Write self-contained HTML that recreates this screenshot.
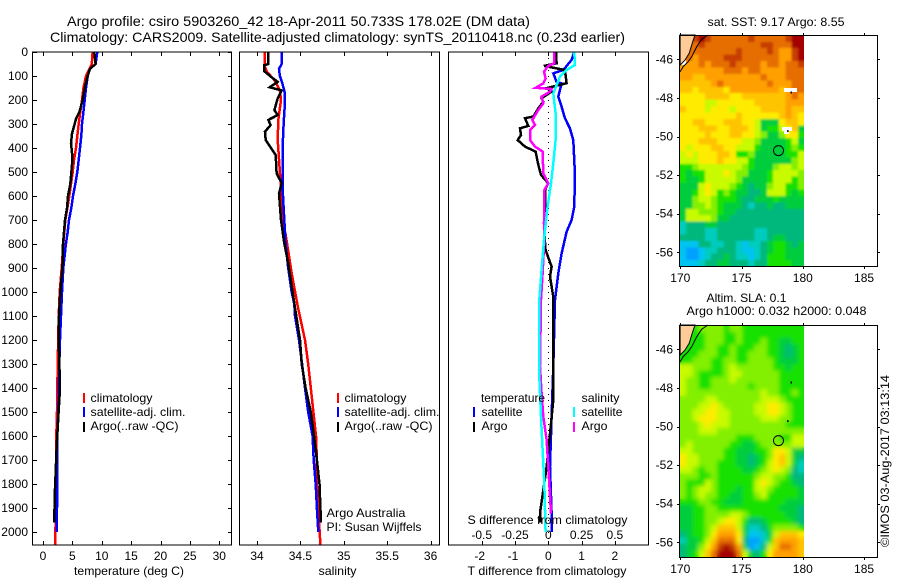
<!DOCTYPE html>
<html lang="en">
<head>
<meta charset="utf-8">
<title>Argo profile</title>
<style>
html,body{margin:0;padding:0;background:#fff;}
svg{display:block;}
text{font-family:"Liberation Sans",sans-serif;font-size:12px;fill:#000;}
.title{font-size:14px;}
</style>
</head>
<body>
<svg id="chart" xmlns="http://www.w3.org/2000/svg" width="900" height="580" viewBox="0 0 900 580">
<defs>
<filter id="sstSoft" x="-5%" y="-5%" width="110%" height="110%"><feGaussianBlur stdDeviation="1"/></filter>
<filter id="slaSoft" x="-5%" y="-5%" width="110%" height="110%"><feGaussianBlur stdDeviation="2.2"/></filter>
<clipPath id="sstClip"><rect x="680" y="35" width="124" height="232"/></clipPath>
<clipPath id="slaClip"><rect x="680" y="325" width="124" height="232"/></clipPath>
</defs>
<rect x="0" y="0" width="900" height="580" fill="#fff"/>
<text class="title" x="67" y="26" textLength="463" lengthAdjust="spacingAndGlyphs">Argo profile: csiro 5903260_42 18-Apr-2011 50.733S 178.02E (DM data)</text>
<text class="title" x="50" y="42" textLength="575" lengthAdjust="spacingAndGlyphs">Climatology: CARS2009. Satellite-adjusted climatology: synTS_20110418.nc (0.23d earlier)</text>

<g id="marks"></g>

<rect x="32.5" y="52" width="199" height="493" fill="none" stroke="#000"/>
<rect x="239.5" y="52" width="200" height="493" fill="none" stroke="#000"/>
<rect x="448.5" y="52" width="200" height="493" fill="none" stroke="#000"/>
<rect x="679.5" y="35.5" width="198" height="231" fill="none" stroke="#000"/>
<rect x="679.5" y="325.5" width="198" height="232" fill="none" stroke="#000"/>

<g>
<rect x="83" y="393" width="2" height="10" fill="#f00"/>
<rect x="83" y="407" width="2" height="10" fill="#00f"/>
<rect x="83" y="422" width="2" height="10" fill="#000"/>
<text x="90.5" y="402" textLength="62" lengthAdjust="spacingAndGlyphs">climatology</text>
<text x="90.5" y="416" textLength="95" lengthAdjust="spacingAndGlyphs">satellite-adj. clim.</text>
<text x="90.5" y="430" textLength="88" lengthAdjust="spacingAndGlyphs">Argo(..raw -QC)</text>
</g>
<g>
<rect x="337" y="393" width="2" height="10" fill="#f00"/>
<rect x="337" y="407" width="2" height="10" fill="#00f"/>
<rect x="337" y="422" width="2" height="10" fill="#000"/>
<text x="344.5" y="402" textLength="62" lengthAdjust="spacingAndGlyphs">climatology</text>
<text x="344.5" y="416" textLength="95" lengthAdjust="spacingAndGlyphs">satellite-adj. clim.</text>
<text x="344.5" y="430" textLength="88" lengthAdjust="spacingAndGlyphs">Argo(..raw -QC)</text>
<text x="326.5" y="517" textLength="79" lengthAdjust="spacingAndGlyphs">Argo Australia</text>
<text x="326.5" y="531" textLength="95" lengthAdjust="spacingAndGlyphs">PI: Susan Wijffels</text>
</g>
<g>
<rect x="473" y="407" width="2" height="10" fill="#00f"/>
<rect x="473" y="422" width="2" height="10" fill="#000"/>
<rect x="573" y="407" width="2" height="10" fill="#0ff"/>
<rect x="573" y="422" width="2" height="10" fill="#f0f"/>
<text x="481" y="402" textLength="64" lengthAdjust="spacingAndGlyphs">temperature</text>
<text x="481.5" y="416" textLength="41" lengthAdjust="spacingAndGlyphs">satellite</text>
<text x="481.5" y="430" textLength="26" lengthAdjust="spacingAndGlyphs">Argo</text>
<text x="581.5" y="402" textLength="38" lengthAdjust="spacingAndGlyphs">salinity</text>
<text x="581.5" y="416" textLength="41" lengthAdjust="spacingAndGlyphs">satellite</text>
<text x="581.5" y="430" textLength="26" lengthAdjust="spacingAndGlyphs">Argo</text>
</g>

<text x="74" y="575" textLength="110" lengthAdjust="spacingAndGlyphs">temperature (deg C)</text>
<text x="318.5" y="575" textLength="38" lengthAdjust="spacingAndGlyphs">salinity</text>
<text x="467.5" y="575" textLength="159" lengthAdjust="spacingAndGlyphs">T difference from climatology</text>
<text x="467.5" y="524" textLength="160" lengthAdjust="spacingAndGlyphs">S difference from climatology</text>

<text x="707.5" y="26" textLength="137" lengthAdjust="spacingAndGlyphs">sat. SST: 9.17 Argo: 8.55</text>
<text x="706.5" y="302" textLength="80" lengthAdjust="spacingAndGlyphs">Altim. SLA: 0.1</text>
<text x="686.5" y="315" textLength="180" lengthAdjust="spacingAndGlyphs">Argo h1000: 0.032 h2000: 0.048</text>
<text transform="translate(889,547) rotate(-90)" x="0" y="0" textLength="172" lengthAdjust="spacingAndGlyphs">©IMOS 03-Aug-2017 03:13:14</text>
</svg>

<script>
// ---------- axis tick data ----------
var depthTicks = [0,100,200,300,400,500,600,700,800,900,1000,1100,1200,1300,1400,1500,1600,1700,1800,1900,2000];
var tempTicks = [0,5,10,15,20,25,30];
var salTicks = [34,34.5,35,35.5,36];
var salTickLabels = ['34','34.5','35','35.5','36'];
var tDiffTicks = [-2,-1,0,1,2];
var sDiffTicks = [-0.5,-0.25,0,0.25,0.5];
var sDiffTickLabels = ['-0.5','-0.25','0','0.25','0.5'];
var lonTicks = [170,175,180,185];
var latTicks = [-46,-48,-50,-52,-54,-56];

// ---------- temperature profiles ----------
var tempClimDepth = [0,50,100,150,200,250,300,350,400,450,500,600,700,800,900,1000,1100,1300,1500,1600,1800,2054];
var tempClim = [8.45,8.3,7.32,6.87,6.64,6.35,6.07,5.84,5.62,5.28,5.05,4.48,3.8,3.46,3.18,2.84,2.67,2.5,2.38,2.27,2.21,2.1];
var tempSatDepth = [0,50,70,100,150,200,250,300,350,400,450,500,550,600,650,700,750,800,900,1000,1100,1200,1300,1500,1600,1800,2000];
var tempSat = [9.25,8.96,8,7.6,7.32,7.1,6.87,6.64,6.52,6.3,6.07,5.84,5.5,5.1,4.82,4.43,4.2,3.9,3.46,3.23,3.06,2.9,2.78,2.61,2.44,2.44,2.33];
var tempArgoDepth = [0,50,70,100,150,200,250,280,310,340,380,420,450,500,550,600,650,700,800,900,1000,1100,1200,1400,1500,1640,1750,1850,1960];
var tempArgo = [8.74,8.96,8,7.6,7.1,6.75,6.2,5.6,5.28,4.94,4.77,4.94,5,4.83,4.65,4.26,4.09,3.74,3.4,3.3,2.95,2.72,2.67,2.9,2.65,2.33,2.16,1.99,1.93];

// ---------- salinity profiles ----------
var salClimDepth = [0,60,80,120,160,200,283,367,464,589,700,783,922,1061,1200,1300,1400,1500,1600,1700,1800,1900,2054];
var salClim = [34.09,34.09,34.11,34.206,34.264,34.276,34.245,34.238,34.257,34.28,34.3,34.34,34.4,34.47,34.553,34.59,34.62,34.65,34.68,34.69,34.69,34.706,34.73];
var salSatDepth = [0,50,70,100,130,170,220,300,400,600,700,800,900,1000,1050,1100,1200,1300,1400,1500,1600,1700,1800,1900,2000];
var salSat = [34.284,34.284,34.253,34.264,34.291,34.32,34.32,34.307,34.295,34.3,34.315,34.33,34.36,34.4,34.43,34.438,34.484,34.52,34.553,34.59,34.64,34.653,34.676,34.69,34.706];
var salArgoDepth = [0,50,55,80,100,124,147,160,193,242,263,283,304,332,367,394,429,505,547,589,700,797,880,1047,1200,1300,1400,1500,1600,1700,1800,1900,1960];
var salArgo = [34.13,34.13,34.084,34.084,34.15,34.238,34.146,34.284,34.238,34.2,34.238,34.13,34.157,34.092,34.1,34.15,34.215,34.226,34.284,34.253,34.276,34.315,34.36,34.43,34.495,34.515,34.56,34.62,34.657,34.69,34.72,34.73,34.737];

// ---------- difference profiles ----------
var tDiffArgoDepth = [0,47,58,75,130,151,165,193,207,235,269,276,308,318,346,367,394,415,470,512,547,575,672,756,825,894,936,1020,1170,1450,1590,1660,1730,1825,1920,1960];
var tDiffArgo = [0.23,0.25,-0.13,0.5,0.55,-0.05,0.1,-0.2,-0.15,-0.3,-0.45,-0.7,-0.6,-0.85,-0.82,-0.92,-0.7,-0.38,-0.3,-0.22,0,-0.1,-0.08,-0.12,-0.08,0.1,0.05,0.15,0.15,0.15,0.05,0,-0.05,-0.15,-0.25,-0.25];
var tDiffSatDepth = [0,33,75,89,124,131,186,228,276,318,367,506,644,700,749,839,922,1033,1310,1519,1727,1922,2000];
var tDiffSat = [0.78,0.7,0.45,0.15,0.25,0.4,0.3,0.4,0.5,0.65,0.75,0.8,0.78,0.7,0.55,0.4,0.3,0.2,0.15,0.1,0.05,0.1,0.1];
var sDiffSatDepth = [0,54,75,103,172,269,367,464,547,644,769,853,1033,1172,1352,1519,1658,1797,2000];
var sDiffSat = [0.195,0.2,0.1375,0.0875,0.0375,0.0575,0.055,0.0375,0.02,-0.005,-0.03,-0.0425,-0.0675,-0.07,-0.0675,-0.055,-0.0425,-0.03,-0.02];
var sDiffArgoDepth = [0,47,58,82,110,131,149,154,165,186,214,242,283,304,325,367,394,415,506,547,575,714,783,922,1033,1310,1422,1519,1616,1727,1922];
var sDiffArgo = [0.045,0.045,0,-0.0325,-0.02,-0.0375,-0.095,0.025,0.0125,-0.05,-0.0375,-0.075,-0.12,-0.1,-0.1375,-0.1375,-0.1,-0.0425,-0.0375,0,-0.03,-0.0325,-0.03,-0.0425,-0.055,-0.0625,-0.05,-0.0375,-0.0125,0,0.02];

// ---------- colour levels for the maps (0 blue ... 13 dark red) ----------
var levelColors = ['#00a0ff','#00c4f0','#00ccbe','#00b87c','#00cd3c','#14e100','#82f000','#c8fa00','#ffeb00','#ffc400','#ffa000','#e66e00','#c83c00','#a50000'];

var sstGrid = [
[11,11,12,13,12,11,11,11,11,11,11,12,11,11,11,11,11,12,13,13],
[11,11,11,12,11,11,11,11,11,11,11,11,11,12,12,11,11,11,13,13],
[11,11,11,11,11,11,11,11,11,12,11,11,11,11,12,11,10,10,12,13],
[11,11,10,11,11,11,11,12,12,12,11,11,11,11,11,11,10,10,12,13],
[10,10,10,11,10,11,11,11,12,11,11,11,11,10,11,11,10,11,11,12],
[10,10,10,10,10,10,10,11,11,11,10,11,11,10,10,10,10,11,11,11],
[10,10,9,9,10,10,10,10,10,10,10,10,10,11,10,10,10,11,11,11],
[9,9,9,9,9,10,11,10,10,10,10,10,10,10,11,10,10,10,11,11],
[9,9,8,9,9,9,9,8,10,10,10,10,10,10,10,10,9,10,11,11],
[8,8,8,8,9,9,9,9,8,8,9,9,9,9,9,9,9,10,11,10],
[8,8,8,8,7,7,8,8,8,8,8,8,9,9,9,9,9,10,10,10],
[9,8,8,8,7,8,8,8,7,8,8,8,8,9,9,9,9,10,9,9],
[8,8,8,8,8,8,8,8,8,9,8,8,8,8,8,8,9,10,9,8],
[8,8,9,9,8,8,8,9,9,9,8,8,7,4,4,4,8,9,9,8],
[8,8,8,9,9,9,8,8,9,9,9,8,7,4,5,5,7,8,9,4],
[8,8,8,8,9,8,8,8,9,9,8,8,7,6,4,4,6,8,8,5],
[8,8,8,9,9,9,8,8,8,8,7,7,6,4,4,4,4,5,7,4],
[8,7,8,8,8,9,9,8,8,7,7,7,5,4,4,4,4,5,6,5],
[7,8,7,8,8,8,9,9,8,5,5,6,4,4,4,4,4,5,5,7],
[7,7,7,8,8,8,9,8,8,7,7,5,4,4,4,4,4,4,6,7],
[5,5,6,7,7,7,7,7,7,7,6,5,4,4,4,6,7,7,6,7],
[5,4,5,5,7,7,7,8,7,6,6,4,4,4,5,7,7,7,7,6],
[5,4,4,5,7,7,7,7,7,6,4,4,4,4,5,7,7,7,5,6],
[4,4,4,7,8,7,7,7,6,5,4,3,4,4,6,7,7,5,5,6],
[4,4,5,7,8,7,5,6,5,4,4,3,3,4,7,7,7,5,4,5],
[4,4,6,7,7,6,5,5,5,4,3,3,4,4,4,5,4,4,4,4],
[4,4,6,6,7,6,5,4,4,4,3,2,3,3,4,3,3,4,4,4],
[4,7,7,6,6,6,5,4,4,3,3,3,3,3,3,3,3,3,3,3],
[4,7,7,7,7,6,4,4,3,3,3,3,3,3,3,3,3,3,3,3],
[2,3,3,3,4,4,3,3,3,3,3,3,3,3,3,3,3,3,3,3],
[2,3,3,3,2,2,3,3,3,3,3,3,2,2,3,3,3,3,3,3],
[3,3,3,3,2,2,3,3,3,3,3,3,2,2,3,4,4,3,3,3],
[1,1,1,3,3,2,2,3,3,2,1,2,2,3,4,5,5,4,3,4],
[1,0,0,1,2,2,3,3,3,2,1,1,2,3,4,5,5,4,4,4],
[1,0,0,1,2,3,3,4,3,2,2,1,2,3,5,5,5,4,4,4],
[1,1,1,2,3,3,4,4,3,3,3,2,3,3,5,5,5,5,4,4]
];

var slaGrid = [
[5,5,5,6,6,6,6,5,6,6,5,5,5,5,5,5,5,5,5,5],
[5,5,5,5,6,6,6,5,5,6,5,5,5,5,5,5,5,5,5,5],
[5,5,5,5,6,6,6,5,5,6,5,5,5,6,5,5,4,4,5,5],
[5,5,5,5,6,6,5,5,6,5,5,5,6,6,5,5,4,3,4,5],
[5,5,5,6,6,6,5,5,6,5,5,6,6,6,5,5,4,3,4,5],
[5,5,6,6,6,5,5,6,6,5,5,6,6,6,6,5,4,4,4,5],
[7,7,6,6,6,5,5,6,7,6,6,6,6,6,6,5,5,4,5,5],
[7,7,6,5,5,5,5,6,7,7,6,6,6,6,6,6,5,5,5,5],
[7,6,6,5,5,6,6,6,7,6,6,6,6,6,6,6,5,5,5,5],
[7,6,6,5,5,6,6,6,6,6,6,5,6,6,6,6,5,5,5,5],
[7,6,6,6,6,6,6,6,6,6,6,6,6,7,6,6,5,5,6,5],
[6,6,6,6,7,7,6,6,6,6,6,6,6,7,7,7,6,5,5,5],
[6,6,6,7,7,8,7,6,6,6,6,6,7,7,8,8,7,6,5,5],
[6,6,7,7,8,8,7,7,6,6,6,6,7,7,8,8,7,6,5,5],
[6,6,7,8,8,8,7,7,6,6,6,6,6,7,7,7,6,6,5,5],
[6,6,6,7,8,7,7,7,6,6,6,6,6,6,6,6,6,5,5,5],
[6,6,6,7,7,7,6,6,6,6,6,6,6,6,6,6,6,6,6,6],
[6,6,6,6,6,6,6,6,6,5,5,5,6,6,6,6,5,5,7,7],
[6,7,6,6,6,6,6,6,5,5,4,4,5,6,6,6,6,6,7,7],
[7,7,6,6,6,6,6,5,5,4,4,4,5,5,6,8,8,7,4,4],
[8,7,7,6,6,6,6,5,5,4,4,3,4,5,6,8,9,7,4,3],
[8,7,7,6,6,6,5,5,5,4,4,3,4,5,7,8,9,7,4,2],
[7,7,6,5,6,6,5,5,5,5,4,4,5,6,7,8,7,6,3,2],
[6,6,6,5,5,6,5,5,5,5,5,5,6,7,7,6,6,5,3,3],
[6,5,5,5,7,6,5,5,5,5,5,5,7,8,7,6,5,5,4,3],
[6,5,6,7,7,6,5,5,5,4,5,5,7,7,6,5,5,5,5,4],
[6,5,6,7,6,6,5,5,4,4,5,5,6,7,5,5,5,5,5,4],
[5,5,5,6,6,5,5,4,4,4,5,5,5,5,5,5,5,4,4,4],
[4,4,5,5,6,6,5,5,5,5,5,5,5,5,5,5,4,4,4,3],
[4,4,5,5,6,6,6,6,7,7,6,5,5,5,5,5,5,4,4,3],
[4,4,5,5,6,6,7,8,8,7,5,3,3,4,5,5,5,5,4,3],
[4,4,5,5,6,7,9,9,9,7,4,2,2,3,5,6,6,6,6,5],
[3,4,5,5,6,8,10,10,10,8,4,1,1,2,4,7,9,9,9,8],
[2,4,4,5,7,9,11,11,11,8,3,0,0,2,5,9,10,10,10,9],
[3,4,4,6,8,10,12,13,12,10,4,0,1,3,7,9,11,11,10,9],
[3,4,5,7,9,11,13,13,13,11,7,4,3,5,8,10,10,10,10,9]
];

// ---------- map overlays (longitude / latitude) ----------
var floatLon = 178.02;
var floatLat = -50.733;
var landEdgeLon = [171.2,171.06,170.93,170.73,170.38,169.98];
var landEdgeLat = [-44.74,-45,-45.26,-45.69,-46.04,-46.3];
var coastLon = [172.26,171.75,171.34,170.93,170.65,170.24,169.98];
var coastLat = [-44.74,-44.96,-45.35,-45.87,-46.12,-46.38,-46.64];
var isletLon = [179.0,178.72];
var isletLat = [-47.67,-49.67];

var SVGNS = 'http://www.w3.org/2000/svg';
var marks = document.getElementById('marks');

function make(tag, attrs, parent) {
  var el = document.createElementNS(SVGNS, tag);
  for (var k in attrs) { el.setAttribute(k, attrs[k]); }
  (parent || marks).appendChild(el);
  return el;
}

// axis functions
function yDepth(d) { return 52 + d * 0.24; }
function xTemp(t) { return 43 + t * 5.875; }
function xSal(s) { return 257 + (s - 34) * 86.8; }
function xTDiff(t) { return 548.3 + t * 33.3; }
function xSDiff(s) { return 548.3 + s * 133.2; }
function xLon(lon) { return 680.3 + (lon - 170) * 12.25; }
function yLatTop(lat) { return 59.3 + (-46 - lat) * 19.3; }
function yLatBottom(lat) { return 349.3 + (-46 - lat) * 19.3; }

function drawProfile(xFn, depths, values, color, width, name) {
  var pts = [];
  for (var i = 0; i < depths.length; i++) {
    pts.push(xFn(values[i]).toFixed(1) + ',' + yDepth(depths[i]).toFixed(1));
  }
  var line = make('polyline', {points: pts.join(' '), fill: 'none', stroke: color, 'stroke-width': width, 'shape-rendering': 'crispEdges'});
  
  
}

function drawLabel(x, y, str, anchor, name) {
  var t = make('text', {x: x, y: y, 'text-anchor': anchor});
  t.textContent = str;
  
  
}

function drawTick(x1, y1, x2, y2, name) {
  var l = make('line', {x1: x1, y1: y1, x2: x2, y2: y2, stroke: '#000', 'stroke-width': 1, 'shape-rendering': 'crispEdges'});
  
  
}

function drawGrid(grid, yFn, name, parent) {
  var cols = grid[0].length, rows = grid.length;
  var top = yFn(-44.76);
  var cw = 124 / cols, ch = (yFn(-56.74) - top) / rows;
  for (var r = 0; r < rows; r++) {
    for (var c = 0; c < cols; c++) {
      var cell = make('rect', {
        x: (680 + c * cw).toFixed(2), y: (top + r * ch).toFixed(2),
        width: (cw + 0.4).toFixed(2), height: (ch + 0.4).toFixed(2),
        fill: levelColors[grid[r][c]], 'shape-rendering': 'crispEdges'
      }, parent);
      
      
    }
  }
}

function drawHeatmap(grid, yFn, name, filterId, clipId) {
  var clipGroup = make('g', {'clip-path': 'url(#' + clipId + ')'});
  
  
  drawGrid(grid, yFn, name + '-base-cell', clipGroup);
  var softGroup = make('g', {filter: 'url(#' + filterId + ')'}, clipGroup);
  
  
  drawGrid(grid, yFn, name + '-cell', softGroup);
}

function drawMapOverlay(yFn, prefix) {
  var landPts = [xLon(169.98).toFixed(1) + ',' + yFn(-44.74).toFixed(1)];
  var edgePts = [];
  for (var i = 0; i < landEdgeLon.length; i++) {
    edgePts.push(xLon(landEdgeLon[i]).toFixed(1) + ',' + yFn(landEdgeLat[i]).toFixed(1));
  }
  var land = make('polygon', {points: landPts.concat(edgePts).join(' '), fill: '#ffcc99', stroke: '#000', 'stroke-width': 1});
  
  
  var coastPts = [];
  for (var j = 0; j < coastLon.length; j++) {
    coastPts.push(xLon(coastLon[j]).toFixed(1) + ',' + yFn(coastLat[j]).toFixed(1));
  }
  var coast = make('polyline', {points: coastPts.join(' '), fill: 'none', stroke: '#000', 'stroke-width': 1});
  
  
  for (var k = 0; k < isletLon.length; k++) {
    var islet = make('rect', {x: xLon(isletLon[k]).toFixed(1), y: yFn(isletLat[k]).toFixed(1), width: 1.5, height: 2, fill: '#000'});
    
    
  }
  var marker = make('circle', {cx: xLon(floatLon).toFixed(1), cy: yFn(floatLat).toFixed(1), r: 5, fill: 'none', stroke: '#000', 'stroke-width': 1});
  
  
}

function drawMapAxes(yFn, frameTop, frameBottom, labelY, prefix) {
  lonTicks.forEach(function (lon) {
    var x = Math.round(xLon(lon)) + 0.5;
    drawTick(x, frameTop - 2, x, frameTop, prefix + '-top-tick');
    drawTick(x, frameBottom, x, frameBottom + 2, prefix + '-bottom-tick');
    drawLabel(xLon(lon), labelY, String(lon), 'middle', prefix + '-lon-label');
  });
  latTicks.forEach(function (lat) {
    var y = Math.round(yFn(lat)) + 0.5;
    drawTick(677, y, 680, y, prefix + '-left-tick');
    drawTick(878, y, 880, y, prefix + '-right-tick');
    drawLabel(673, yFn(lat) + 4, String(lat), 'end', prefix + '-lat-label');
  });
}

// depth axis
depthTicks.forEach(function (d) {
  var y = Math.round(yDepth(d)) + 0.5;
  drawTick(33, y, 37, y, 'depth-tick-left');
  drawTick(228, y, 232, y, 'depth-tick-right');
  drawLabel(28, yDepth(d) + 4, String(d), 'end', 'depth-label');
});

// temperature axis
tempTicks.forEach(function (t) {
  var x = Math.round(xTemp(t)) + 0.5;
  drawTick(x, 52, x, 56, 'temperature-top-tick');
  drawTick(x, 541, x, 545, 'temperature-bottom-tick');
  drawLabel(xTemp(t), 560, String(t), 'middle', 'temperature-tick-label');
});

// salinity axis
salTicks.forEach(function (s, i) {
  var x = Math.round(xSal(s)) + 0.5;
  drawTick(x, 52, x, 56, 'salinity-top-tick');
  drawTick(x, 541, x, 545, 'salinity-bottom-tick');
  drawLabel(xSal(s), 560, salTickLabels[i], 'middle', 'salinity-tick-label');
});

// difference axes
tDiffTicks.forEach(function (t) {
  var x = Math.round(xTDiff(t)) + 0.5;
  drawTick(x, 52, x, 56, 'difference-top-tick');
  drawTick(x, 541, x, 545, 'difference-bottom-tick');
  drawLabel(xTDiff(t) - (t < 0 ? 2 : 0), 560, String(t), 'middle', 't-difference-tick-label');
});
sDiffTicks.forEach(function (s, i) {
  drawLabel(xSDiff(s), 539, sDiffTickLabels[i], 'middle', 's-difference-tick-label');
});

// zero reference line
var zeroLine = make('line', {x1: xTDiff(0), y1: 52, x2: xTDiff(0), y2: 545, stroke: '#000', 'stroke-width': 1, 'stroke-dasharray': '1 5', 'shape-rendering': 'crispEdges'});



// profiles
drawProfile(xTemp, tempClimDepth, tempClim, '#f00', 2.5, 'temperature-climatology-line');
drawProfile(xTemp, tempSatDepth, tempSat, '#00f', 2.5, 'temperature-satellite-line');
drawProfile(xTemp, tempArgoDepth, tempArgo, '#000', 2.5, 'temperature-argo-line');

drawProfile(xSal, salClimDepth, salClim, '#f00', 2.5, 'salinity-climatology-line');
drawProfile(xSal, salSatDepth, salSat, '#00f', 2.5, 'salinity-satellite-line');
drawProfile(xSal, salArgoDepth, salArgo, '#000', 2.5, 'salinity-argo-line');

drawProfile(xTDiff, tDiffSatDepth, tDiffSat, '#00f', 2.5, 't-difference-satellite-line');
drawProfile(xTDiff, tDiffArgoDepth, tDiffArgo, '#000', 2.5, 't-difference-argo-line');
drawProfile(xSDiff, sDiffArgoDepth, sDiffArgo, '#f0f', 2.5, 's-difference-argo-line');
drawProfile(xSDiff, sDiffSatDepth, sDiffSat, '#0ff', 2.5, 's-difference-satellite-line');

// maps
drawHeatmap(sstGrid, yLatTop, 'sst', 'sstSoft', 'sstClip');
var gapA = make('rect', {x: 784, y: 88, width: 13, height: 4, fill: '#fff'});


var gapB = make('rect', {x: 782, y: 127, width: 10, height: 4, fill: '#fff'});


var gapC = make('rect', {x: 784, y: 131, width: 5, height: 3, fill: '#fff'});


var gapD = make('rect', {x: 681, y: 60, width: 5, height: 5, fill: '#fff'});


drawMapOverlay(yLatTop, 'sst-map');
drawMapAxes(yLatTop, 35, 267, 282, 'sst-map');

drawHeatmap(slaGrid, yLatBottom, 'sla', 'slaSoft', 'slaClip');
drawMapOverlay(yLatBottom, 'sla-map');
drawMapAxes(yLatBottom, 325, 558, 573, 'sla-map');
</script>
</body>
</html>
